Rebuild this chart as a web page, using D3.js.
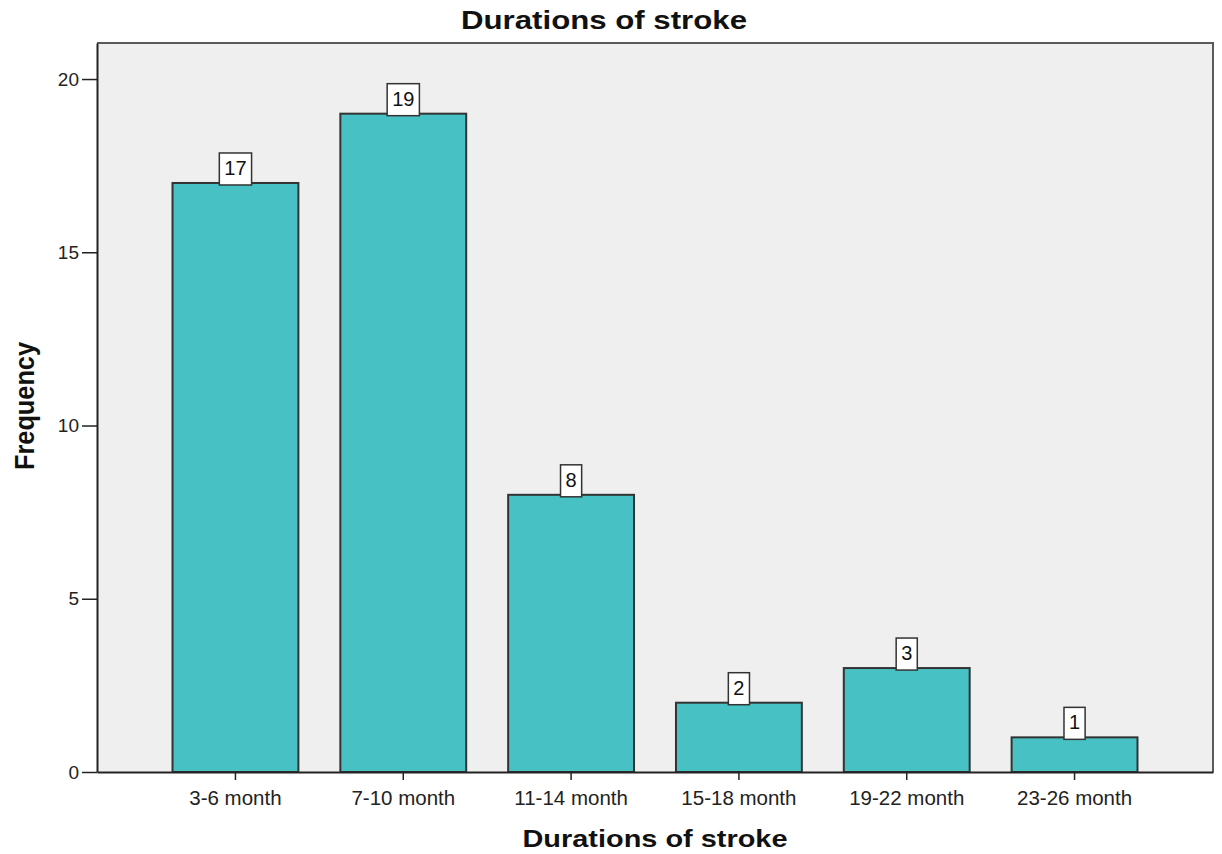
<!DOCTYPE html>
<html>
<head>
<meta charset="utf-8">
<script src="https://cdn.jsdelivr.net/npm/d3@7"></script>
<style>
  html, body { margin: 0; padding: 0; background: #ffffff; }
  svg { display: block; font-family: "Liberation Sans", Arial, sans-serif; }
</style>
</head>
<body>
<svg id="chart" width="1222" height="854"></svg>
<script>
// Stroke duration groups and patient counts
const categories = ["3-6 month", "7-10 month", "11-14 month", "15-18 month", "19-22 month", "23-26 month"];
const frequencies = [17, 19, 8, 2, 3, 1];
const yTicks = [0, 5, 10, 15, 20];

const chartTitle = "Durations of stroke";
const xTitle = "Durations of stroke";
const yTitle = "Frequency";

const frame = { left: 97, right: 1213, top: 43, bottom: 772 };

const svg = d3.select("#chart");

const x = d3.scaleBand()
  .domain(categories)
  .range([frame.left, frame.right])
  .paddingInner(0.25)
  .paddingOuter(0.45);

const y = d3.scaleLinear()
  .domain([0, 21.04])
  .range([frame.bottom, frame.top]);

// plot background
svg.append("rect")
  .attr("x", frame.left).attr("y", frame.top)
  .attr("width", frame.right - frame.left)
  .attr("height", frame.bottom - frame.top)
  .attr("fill", "#efefef");

// top and right border
svg.append("path")
  .attr("d", `M${frame.left},${frame.top}H${frame.right}V${frame.bottom}`)
  .attr("fill", "none")
  .attr("stroke", "#5a5a5a")
  .attr("stroke-width", 2);

// bars
svg.append("g").selectAll("rect")
  .data(frequencies)
  .join("rect")
  .attr("x", (d, i) => x(categories[i]))
  .attr("y", d => y(d))
  .attr("width", x.bandwidth())
  .attr("height", d => y(0) - y(d))
  .attr("fill", "#48c1c5")
  .attr("stroke", "#333333")
  .attr("stroke-width", 2);

// value labels in boxes
const labels = svg.append("g").selectAll("g")
  .data(frequencies)
  .join("g")
  .attr("transform", (d, i) => `translate(${x(categories[i]) + x.bandwidth() / 2},${y(d)})`);

labels.append("text")
  .attr("text-anchor", "middle")
  .attr("y", -8)
  .attr("font-size", 20)
  .attr("fill", "#111")
  .text(d => d)
  .each(function () {
    const w = this.getBBox().width;
    d3.select(this.parentNode).insert("rect", "text")
      .attr("x", -w / 2 - 5)
      .attr("y", -30)
      .attr("width", w + 10)
      .attr("height", 32)
      .attr("fill", "#ffffff")
      .attr("stroke", "#333333")
      .attr("stroke-width", 1.5);
  });

// y axis
const yAxis = svg.append("g")
  .attr("transform", `translate(${frame.left},0)`)
  .call(d3.axisLeft(y).tickValues(yTicks).tickSize(15).tickSizeOuter(0).tickPadding(3).tickFormat(d3.format("d")));
yAxis.select(".domain").attr("stroke", "#222").attr("stroke-width", 2);
yAxis.selectAll(".tick line").attr("stroke", "#222").attr("stroke-width", 1.5);
yAxis.selectAll(".tick text").attr("font-size", 19).attr("fill", "#222").attr("font-family", null);

// x axis
const xAxis = svg.append("g")
  .attr("transform", `translate(0,${frame.bottom})`)
  .call(d3.axisBottom(x).tickSize(8).tickPadding(10).tickSizeOuter(0));
xAxis.select(".domain").attr("stroke", "#222").attr("stroke-width", 2);
xAxis.selectAll(".tick line").attr("stroke", "#222").attr("stroke-width", 1.5);
xAxis.selectAll(".tick text").attr("font-size", 20.5).attr("fill", "#222").attr("font-family", null);

// titles, stretched to the intended widths
function titleText(parent, text, size, width) {
  return parent.append("text")
    .attr("text-anchor", "middle")
    .attr("font-size", size).attr("font-weight", "bold")
    .attr("fill", "#111")
    .attr("textLength", width)
    .attr("lengthAdjust", "spacingAndGlyphs")
    .text(text);
}

titleText(svg, chartTitle, 25, 286)
  .attr("x", 604).attr("y", 29);

titleText(svg, xTitle, 24, 265)
  .attr("x", 655).attr("y", 847);

titleText(svg, yTitle, 27, 128)
  .attr("transform", `translate(34,406) rotate(-90)`);
</script>
</body>
</html>
